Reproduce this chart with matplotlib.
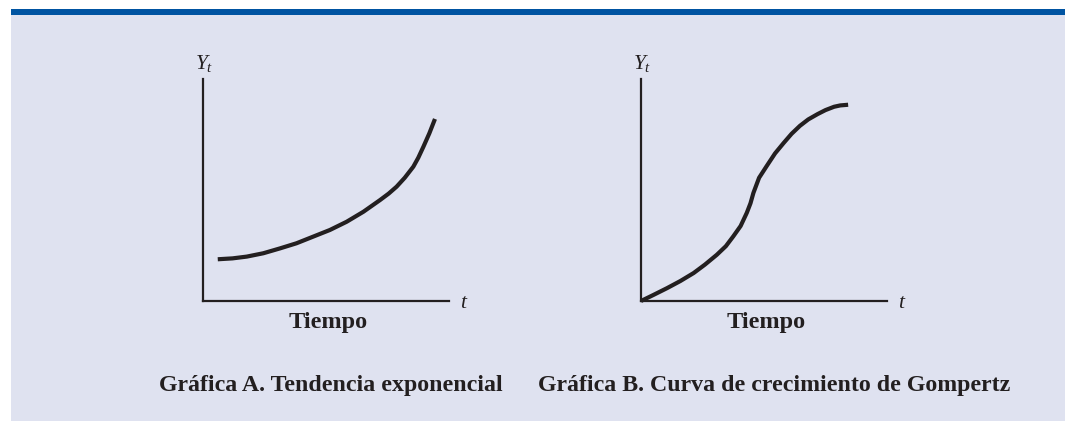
import matplotlib
matplotlib.use("Agg")
import matplotlib.pyplot as plt
from matplotlib.patches import Rectangle

plt.rcParams['font.family'] = ['Liberation Serif', 'DejaVu Serif']
plt.rcParams['mathtext.fontset'] = 'custom'
plt.rcParams['mathtext.it'] = 'Liberation Serif:italic'
plt.rcParams['mathtext.rm'] = 'Liberation Serif'

BG = '#dfe2f0'
BAR = '#0054a2'
INK = '#231f20'

# Gráfica A: exponential trend (axis units 0-10)
exp_t = [0.60, 1.20, 1.78, 2.45, 3.13, 3.80, 4.48, 5.16, 5.84, 6.52, 7.20, 7.55, 7.87, 8.20,
         8.55, 8.75, 8.96, 9.20, 9.43]
exp_y = [1.88, 1.92, 2.00, 2.15, 2.37, 2.60, 2.90, 3.20, 3.57, 4.02, 4.55, 4.84, 5.15, 5.55,
         6.05, 6.45, 6.95, 7.55, 8.20]

# Gráfica B: Gompertz growth curve
gom_t = [0.00, 0.50, 1.06, 1.60, 2.14, 2.60, 3.08, 3.45, 3.75, 4.05, 4.30, 4.45, 4.57, 4.80,
         5.11, 5.45, 5.80, 6.12, 6.46, 6.80, 7.18, 7.50, 7.85, 8.10, 8.42]
gom_y = [0.00, 0.27, 0.58, 0.90, 1.26, 1.64, 2.08, 2.47, 2.91, 3.38, 3.97, 4.40, 4.87, 5.55,
         6.08, 6.65, 7.12, 7.53, 7.89, 8.18, 8.42, 8.60, 8.75, 8.81, 8.84]

panels = [
    (exp_t, exp_y, 203, 'Gráfica A. Tendencia exponencial', 331),
    (gom_t, gom_y, 641, 'Gráfica B. Curva de crecimiento de Gompertz', 774),
]

W, H = 1065, 421
fig = plt.figure(figsize=(W / 100, H / 100), dpi=100)
fig.patch.set_facecolor('white')
fig.patches.append(Rectangle((11 / W, 0), 1 - 11 / W, (H - 15) / H, transform=fig.transFigure,
                             facecolor=BG, edgecolor='none', zorder=-2))
fig.patches.append(Rectangle((11 / W, (H - 15) / H), 1 - 11 / W, 6 / H, transform=fig.transFigure,
                             facecolor=BAR, edgecolor='none', zorder=-2))


def px(x, y):
    return x / W, (H - y) / H


for t, y, x0, caption, cap_x in panels:
    ax = fig.add_axes([x0 / W, (H - 301) / H, 246 / W, 222 / H])
    ax.set_facecolor('none')
    ax.plot(t, y, color=INK, lw=3.0, solid_capstyle='butt', solid_joinstyle='round', clip_on=False)
    ax.set_xlim(0, 10)
    ax.set_ylim(0, 10)
    for s in ['top', 'right']:
        ax.spines[s].set_visible(False)
    for s in ['left', 'bottom']:
        ax.spines[s].set_linewidth(1.6)
        ax.spines[s].set_color(INK)
    ax.set_xticks([])
    ax.set_yticks([])
    fig.text(*px(x0 + 1, 69), r'$Y_t$', ha='center', va='baseline', fontsize=15.5, color=INK)
    fig.text(*px(x0 + 261, 308), r'$t$', ha='center', va='baseline', fontsize=15.5, color=INK)
    fig.text(*px(x0 + 125, 328), 'Tiempo', ha='center', va='baseline',
             fontsize=17.5, fontweight='bold', color=INK)
    fig.text(*px(cap_x, 391), caption, ha='center', va='baseline',
             fontsize=17.2, fontweight='bold', color=INK)

fig.savefig('out.png', dpi=100, facecolor=fig.get_facecolor())
